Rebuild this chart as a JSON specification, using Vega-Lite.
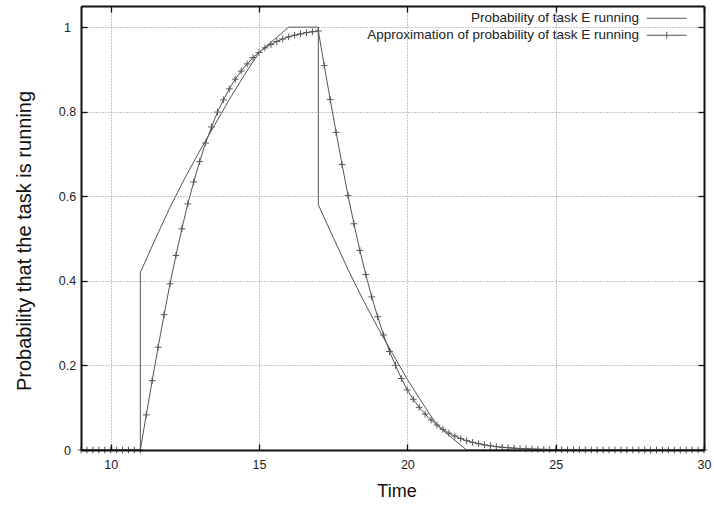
{
  "$schema": "https://vega.github.io/schema/vega-lite/v6.json",
  "width": 623,
  "height": 444,
  "autosize": {"type": "none"},
  "padding": {"left": 81, "top": 6, "right": 10, "bottom": 56},
  "background": "white",
  "config": {
    "view": {"stroke": null},
    "font": "Liberation Sans",
    "axis": {
      "labelFont": "Liberation Sans",
      "labelFontSize": 12.5,
      "labelColor": "#222",
      "titleFont": "Liberation Sans",
      "titleFontWeight": "normal",
      "titleColor": "#111",
      "tickSize": -6,
      "tickColor": "#111",
      "tickWidth": 1.3,
      "domainColor": "#111",
      "domainWidth": 2,
      "gridColor": "#888",
      "gridDash": [1, 2],
      "gridWidth": 1,
      "labelFlush": false
    }
  },
  "datasets": {
    "key": [{"x1": 14.8, "x2": 30, "y1": 0.963, "y2": 1.05}],
    "exact": [
      {"t": 9, "p": 0}, {"t": 11, "p": 0}, {"t": 11, "p": 0.42}, {"t": 11.5, "p": 0.498},
      {"t": 12, "p": 0.574}, {"t": 12.5, "p": 0.643}, {"t": 13, "p": 0.707}, {"t": 13.5, "p": 0.768},
      {"t": 14, "p": 0.829}, {"t": 14.5, "p": 0.886}, {"t": 15, "p": 0.94}, {"t": 15.5, "p": 0.97},
      {"t": 16, "p": 1}, {"t": 17, "p": 1}, {"t": 17, "p": 0.58}, {"t": 17.5, "p": 0.503},
      {"t": 18, "p": 0.427}, {"t": 18.5, "p": 0.356}, {"t": 19, "p": 0.29}, {"t": 19.5, "p": 0.228},
      {"t": 20, "p": 0.167}, {"t": 20.5, "p": 0.112}, {"t": 21, "p": 0.059}, {"t": 21.5, "p": 0.029},
      {"t": 22, "p": 0}, {"t": 30, "p": 0}
    ],
    "approx": [
      {"t": 9.0, "p": 0}, {"t": 9.2, "p": 0}, {"t": 9.4, "p": 0}, {"t": 9.6, "p": 0}, {"t": 9.8, "p": 0},
      {"t": 10.0, "p": 0}, {"t": 10.2, "p": 0}, {"t": 10.4, "p": 0}, {"t": 10.6, "p": 0}, {"t": 10.8, "p": 0},
      {"t": 11.0, "p": 0}, {"t": 11.2, "p": 0.083}, {"t": 11.4, "p": 0.164}, {"t": 11.6, "p": 0.243},
      {"t": 11.8, "p": 0.32}, {"t": 12.0, "p": 0.393}, {"t": 12.2, "p": 0.46}, {"t": 12.4, "p": 0.523},
      {"t": 12.6, "p": 0.582}, {"t": 12.8, "p": 0.634}, {"t": 13.0, "p": 0.682}, {"t": 13.2, "p": 0.726},
      {"t": 13.4, "p": 0.764}, {"t": 13.6, "p": 0.799}, {"t": 13.8, "p": 0.828}, {"t": 14.0, "p": 0.854},
      {"t": 14.2, "p": 0.877}, {"t": 14.4, "p": 0.896}, {"t": 14.6, "p": 0.913}, {"t": 14.8, "p": 0.928},
      {"t": 15.0, "p": 0.94}, {"t": 15.2, "p": 0.951}, {"t": 15.4, "p": 0.959}, {"t": 15.6, "p": 0.966},
      {"t": 15.8, "p": 0.972}, {"t": 16.0, "p": 0.977}, {"t": 16.2, "p": 0.981}, {"t": 16.4, "p": 0.984},
      {"t": 16.6, "p": 0.987}, {"t": 16.8, "p": 0.989}, {"t": 17.0, "p": 0.991}, {"t": 17.2, "p": 0.909},
      {"t": 17.4, "p": 0.829}, {"t": 17.6, "p": 0.751}, {"t": 17.8, "p": 0.675}, {"t": 18.0, "p": 0.602},
      {"t": 18.2, "p": 0.535}, {"t": 18.4, "p": 0.472}, {"t": 18.6, "p": 0.415}, {"t": 18.8, "p": 0.362},
      {"t": 19.0, "p": 0.315}, {"t": 19.2, "p": 0.272}, {"t": 19.4, "p": 0.233}, {"t": 19.6, "p": 0.2},
      {"t": 19.8, "p": 0.169}, {"t": 20.0, "p": 0.142}, {"t": 20.2, "p": 0.12}, {"t": 20.4, "p": 0.101},
      {"t": 20.6, "p": 0.085}, {"t": 20.8, "p": 0.071}, {"t": 21.0, "p": 0.059}, {"t": 21.2, "p": 0.049},
      {"t": 21.4, "p": 0.04}, {"t": 21.6, "p": 0.033}, {"t": 21.8, "p": 0.027}, {"t": 22.0, "p": 0.022},
      {"t": 22.2, "p": 0.018}, {"t": 22.4, "p": 0.015}, {"t": 22.6, "p": 0.012}, {"t": 22.8, "p": 0.01},
      {"t": 23.0, "p": 0.008}, {"t": 23.2, "p": 0.0065}, {"t": 23.4, "p": 0.0053}, {"t": 23.6, "p": 0.0043},
      {"t": 23.8, "p": 0.0035}, {"t": 24.0, "p": 0.0028}, {"t": 24.2, "p": 0.0023}, {"t": 24.4, "p": 0.0018},
      {"t": 24.6, "p": 0.0015}, {"t": 24.8, "p": 0.0012}, {"t": 25.0, "p": 0.001}, {"t": 25.2, "p": 0.0008},
      {"t": 25.4, "p": 0.0006}, {"t": 25.6, "p": 0.0005}, {"t": 25.8, "p": 0.0004}, {"t": 26.0, "p": 0.0003},
      {"t": 26.2, "p": 0.0002}, {"t": 26.4, "p": 0.0002}, {"t": 26.6, "p": 0.0001}, {"t": 26.8, "p": 0.0001},
      {"t": 27.0, "p": 0.0001}, {"t": 27.2, "p": 0}, {"t": 27.4, "p": 0}, {"t": 27.6, "p": 0},
      {"t": 27.8, "p": 0}, {"t": 28.0, "p": 0}, {"t": 28.2, "p": 0}, {"t": 28.4, "p": 0},
      {"t": 28.6, "p": 0}, {"t": 28.8, "p": 0}, {"t": 29.0, "p": 0}, {"t": 29.2, "p": 0},
      {"t": 29.4, "p": 0}, {"t": 29.6, "p": 0}, {"t": 29.8, "p": 0}, {"t": 30.0, "p": 0}
    ]
  },
  "layer": [
    {
      "data": {"name": "key"},
      "mark": {"type": "rect", "fill": "white", "stroke": null},
      "encoding": {
        "x": {
          "field": "x1", "type": "quantitative",
          "scale": {"domain": [9, 30], "nice": false, "zero": false},
          "axis": {
            "orient": "bottom", "values": [10, 15, 20, 25, 30], "grid": true, "zindex": 1,
            "title": "Time", "titleFontSize": 18, "titlePadding": 12, "titleX": 315.5,
            "labelPadding": 14
          }
        },
        "x2": {"field": "x2"},
        "y": {
          "field": "y1", "type": "quantitative",
          "scale": {"domain": [0, 1.05], "nice": false, "zero": false},
          "axis": {
            "orient": "left", "values": [0, 0.2, 0.4, 0.6, 0.8, 1], "grid": true, "zindex": 1,
            "format": "~g",
            "title": "Probability that the task is running", "titleFontSize": 20,
            "titlePadding": 24, "titleY": 234.5,
            "labelAlign": "center", "labelBaseline": "middle", "labelPadding": 20
          }
        },
        "y2": {"field": "y2"}
      }
    },
    {
      "data": {"name": "exact"},
      "mark": {"type": "line", "strokeWidth": 1},
      "encoding": {
        "x": {"field": "t", "type": "quantitative",
              "axis": {"orient": "top", "values": [10, 15, 20, 25, 30], "labels": false, "title": null, "grid": false, "zindex": 2}},
        "y": {"field": "p", "type": "quantitative",
              "axis": {"orient": "right", "values": [0, 0.2, 0.4, 0.6, 0.8, 1], "labels": false, "title": null, "grid": false, "zindex": 2}},
        "color": {
          "datum": "Probability of task E running", "type": "nominal",
          "scale": {
            "domain": ["Probability of task E running", "Approximation of probability of task E running"],
            "range": ["#555555", "#555555"]
          },
          "legend": {
            "orient": "none", "legendX": 579, "legendY": 5.5, "title": null,
            "padding": 0, "rowPadding": 2,
            "labelAlign": "right", "labelOffset": -34.5, "labelFontSize": 13.5, "labelLimit": 500,
            "labelColor": "#222", "labelFont": "Liberation Sans",
            "symbolSize": 16, "symbolStrokeWidth": 1, "symbolStrokeColor": "#555555",
            "symbolFillColor": "transparent",
            "encode": {
              "symbols": {
                "update": {
                  "shape": {"signal": "datum.value === 'Approximation of probability of task E running' ? 'M-10,0H10M0,-1.7V1.7' : 'M-10,0H10'"}
                }
              }
            }
          }
        },
        "order": {"value": null}
      }
    },
    {
      "data": {"name": "approx"},
      "mark": {"type": "line", "strokeWidth": 1},
      "encoding": {
        "x": {"field": "t", "type": "quantitative", "axis": null},
        "y": {"field": "p", "type": "quantitative", "axis": null},
        "color": {"datum": "Approximation of probability of task E running", "type": "nominal"},
        "order": {"value": null}
      }
    },
    {
      "data": {"name": "approx"},
      "mark": {"type": "point", "shape": "M-1,0H1M0,-1V1", "size": 45, "filled": false,
               "color": "#555555", "strokeWidth": 1, "opacity": 1},
      "encoding": {
        "x": {"field": "t", "type": "quantitative", "axis": null},
        "y": {"field": "p", "type": "quantitative", "axis": null}
      }
    }
  ],
  "resolve": {"axis": {"x": "independent", "y": "independent"}}
}
